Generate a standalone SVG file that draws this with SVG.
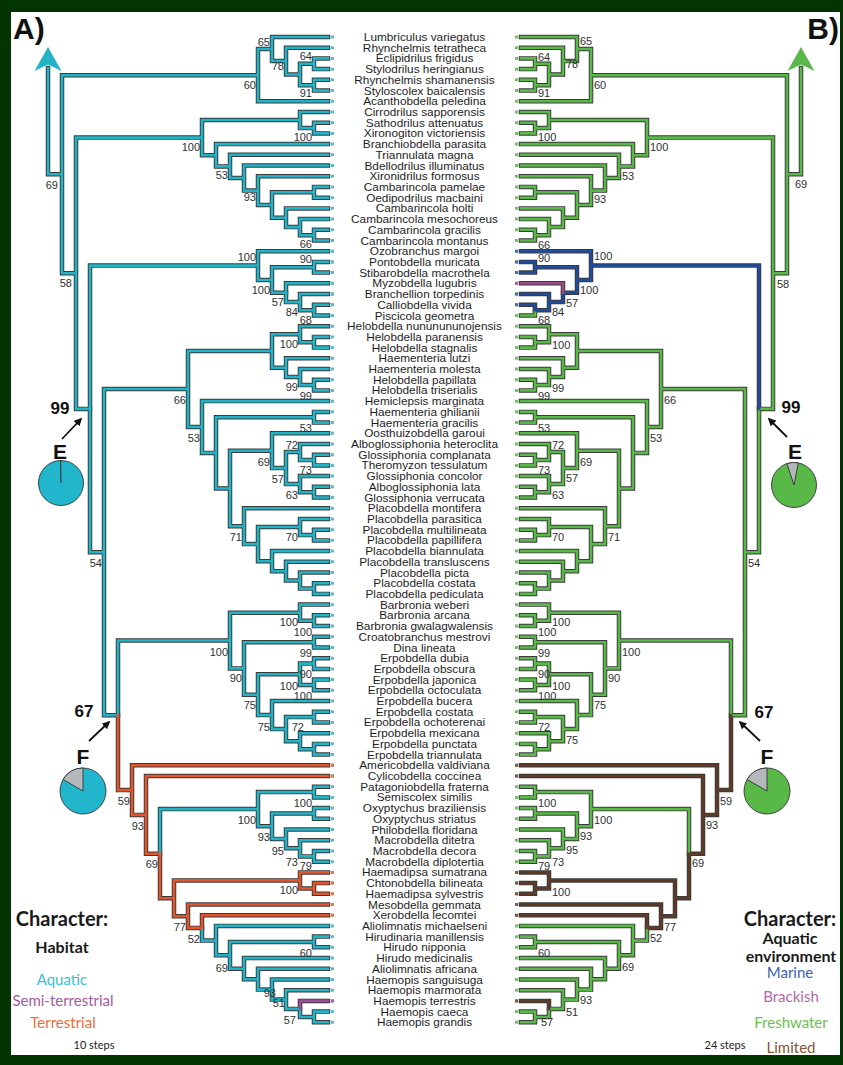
<svg xmlns="http://www.w3.org/2000/svg" xmlns:xlink="http://www.w3.org/1999/xlink" width="843" height="1065" viewBox="0 0 843 1065">
<style>
.ol{fill:none;stroke:#3a3a3a;stroke-width:4.5;stroke-linecap:square;stroke-linejoin:miter}
.core{fill:none;stroke-width:2.6;stroke-linecap:square;stroke-linejoin:miter}
.taxa text{font-family:"Liberation Sans",Arial,sans-serif;font-size:11.8px;fill:#1e1e1e;text-anchor:middle}
.sup text{font-family:"Liberation Sans",Arial,sans-serif;font-size:11px;fill:#303030}
.supL text{text-anchor:end}
.supR text{text-anchor:start}
.big{font-family:"Liberation Sans",Arial,sans-serif;font-weight:700;fill:#111;text-anchor:middle}
.leg{font-family:Lato,"Open Sans",sans-serif;text-anchor:middle}
.pie{stroke:#333;stroke-width:0.9}
.ptr{stroke:#111;stroke-width:1.8;fill:none}
</style>
<defs>
<marker id="ah" viewBox="0 0 10 10" refX="8" refY="5" markerWidth="8" markerHeight="8" markerUnits="userSpaceOnUse" orient="auto"><path d="M0 0L10 5L0 10z" fill="#111"/></marker>
<!-- branch geometry of the habitat tree (left); the environment tree reuses it mirrored -->
<path id="k1" d="M48 68V174.3H62M258 75.2H62V273.3H76M328 58.4H314V69.1H328M328 79.8H314V90.6H328M314 63.8H300V85.2H314M328 47.7H286V74.5H300M328 37H272V61.1H286M272 49H258V101.3H328M328 122.7H314V133.4H328M328 112H300V128.1H314M328 229.8H314V240.5H328M328 219.1H300V235.2H314M328 208.4H286V227.1H300M328 186.9H314V197.7H328M314 192.3H272V217.8H286M328 176.2H258V205H272M328 165.5H244V190.6H258M328 154.8H230V178H244M328 144.1H216V166.4H230M300 120H202V155.3H216M202 137.6H76V408.9H90M314 310.2V315.5H328M90 408.9V552.2H104M328 336.9H314V347.6H328M328 326.2H300V342.3H314M328 379.7H314V390.4H328M328 369H300V385.1H314M328 358.3H286V377H300M300 334.2H272V367.7H286M328 411.9H314V422.6H328M328 454.7H314V465.4H328M328 444H300V460.1H314M328 486.8H314V497.5H328M328 476.1H300V492.2H314M300 452H286V484.1H300M328 433.3H272V468.1H286M328 529.7H314V540.4H328M328 519H300V535.1H314M328 583.2H314V593.9H328M328 572.5H300V588.6H314M328 561.8H286V580.5H300M328 551.1H272V571.2H286M300 527H258V561.2H272M328 508.2H244V544.1H258M272 450.7H230V526.2H244M314 417.3H216V488.5H230M328 401.1H202V452.9H216M272 351H188V427H202M188 389H104V715.3H118M328 615.3H314V626.1H328M328 604.6H300V620.7H314M328 636.8H314V647.5H328M328 658.2H314V668.9H328M328 679.6H314V690.3H328M314 663.6H300V685H314M328 711.7H314V722.4H328M328 743.9H314V754.6H328M328 733.2H300V749.3H314M314 717.1H286V741.2H300M328 701H272V729.1H286M300 674.3H258V715.1H272M314 642.2H244V694.7H258M300 612.7H230V668.4H244M230 640.5H118V715.3M328 786.7H314V797.4H328M328 808.1H314V818.8H328M328 851H314V861.7H328M328 840.2H300V856.4H314M328 829.5H286V848.3H300M314 813.5H272V838.9H286M314 792.1H258V826.2H272M328 1011.6H314V1022.3H328M300 1008.9V1017H314M328 990.2H286V1008.9H300M328 979.5H272V999.6H286M328 968.8H258V989.6H272M328 958.1H244V979.2H258M328 936.6H314V947.3H328M314 942H230V968.7H244M328 925.9H216V955.3H230M202 927.9V940.6H216M258 809.1H160V853.7"/>
<path id="k2" d="M328 261.9H314V272.6H328M328 304.8H314V310.2M328 294H300V310.2H314M286 292.7V302.1H300M314 267.2H272V292.7H286M328 251.2H258V280H272M258 265.6H90V408.9"/>
<path id="k3" d="M328 283.3H286V292.7"/>
<path id="k4" d="M118 715.3V790.1H132M328 765.3H132V814.9H146M328 776H146V853.7H160M160 853.7V898.3H174M300 880.4H174V916.2H188M328 872.4H300V888.5H314M328 883.1H314V893.8H328M328 904.5H188V927.9H202M328 915.2H202V927.9"/>
<path id="k5" d="M328 1000.9H300V1008.9"/>
<path id="tipline" d="M332.5 35.5V1024"/>
<path id="sq2" d="M331 249.7h3v3h-3zM331 260.4h3v3h-3zM331 271.1h3v3h-3zM331 292.5h3v3h-3zM331 303.3h3v3h-3z"/>
<path id="sq3" d="M331 281.8h3v3h-3z"/>
<path id="sq4" d="M331 763.8h3v3h-3zM331 774.5h3v3h-3zM331 870.9h3v3h-3zM331 881.6h3v3h-3zM331 892.3h3v3h-3zM331 903h3v3h-3zM331 913.7h3v3h-3z"/>
<path id="sq5" d="M331 999.4h3v3h-3z"/>
<path id="rootarrow" d="M48 47L61.5 71L48 64.5L34.5 71z"/>
</defs>

<rect width="843" height="1065" fill="#033503"/>
<rect x="11" y="12" width="829" height="1043" fill="#ffffff"/>

<g id="connectors">
  <g id="tree-habitat">
    <g class="ol"><use xlink:href="#k1"/><use xlink:href="#k2"/><use xlink:href="#k3"/><use xlink:href="#k4"/><use xlink:href="#k5"/></g>
    <use xlink:href="#k1" class="core" stroke="#22b4c6"/>
    <use xlink:href="#k2" class="core" stroke="#22b4c6"/>
    <use xlink:href="#k3" class="core" stroke="#22b4c6"/>
    <use xlink:href="#k4" class="core" stroke="#e2562c"/>
    <use xlink:href="#k5" class="core" stroke="#9c4c9c"/>
    <use xlink:href="#rootarrow" fill="#22b4c6"/>
    <use xlink:href="#tipline" fill="none" stroke="#5cbcc8" stroke-width="3" stroke-dasharray="3 7.71"/>
    <use xlink:href="#sq2" fill="#5cbcc8"/>
    <use xlink:href="#sq3" fill="#5cbcc8"/>
    <use xlink:href="#sq4" fill="#e4744e"/>
    <use xlink:href="#sq5" fill="#a660a2"/>
  </g>
  <g id="tree-environment" transform="matrix(-1 0 0 1 849 0)">
    <g class="ol"><use xlink:href="#k1"/><use xlink:href="#k2"/><use xlink:href="#k3"/><use xlink:href="#k4"/><use xlink:href="#k5"/></g>
    <use xlink:href="#k1" class="core" stroke="#5ab84a"/>
    <use xlink:href="#k2" class="core" stroke="#214c9c"/>
    <use xlink:href="#k3" class="core" stroke="#9a4c88"/>
    <use xlink:href="#k4" class="core" stroke="#5e3b26"/>
    <use xlink:href="#k5" class="core" stroke="#5e3b26"/>
    <use xlink:href="#rootarrow" fill="#5ab84a"/>
    <use xlink:href="#tipline" fill="none" stroke="#7cbc6c" stroke-width="3" stroke-dasharray="3 7.71"/>
    <use xlink:href="#sq2" fill="#4a68ac"/>
    <use xlink:href="#sq3" fill="#a8648e"/>
    <use xlink:href="#sq4" fill="#7a5a48"/>
    <use xlink:href="#sq5" fill="#7a5a48"/>
  </g>
  <g id="pointers">
    <path class="ptr" d="M62 439L81 419" marker-end="url(#ah)"/>
    <path class="ptr" d="M787 437L769 419" marker-end="url(#ah)"/>
    <path class="ptr" d="M89 741L109 722" marker-end="url(#ah)"/>
    <path class="ptr" d="M760 741L740 722" marker-end="url(#ah)"/>
  </g>
</g>

<g id="taxa" class="taxa">
<g id="t-lumbriculus-variegatus"><text x="424.5" y="41">Lumbriculus variegatus</text></g>
<g id="t-rhynchelmis-tetratheca"><text x="424.5" y="51.7">Rhynchelmis tetratheca</text></g>
<g id="t-eclipidrilus-frigidus"><text x="424.5" y="62.4">Eclipidrilus frigidus</text></g>
<g id="t-stylodrilus-heringianus"><text x="424.5" y="73.1">Stylodrilus heringianus</text></g>
<g id="t-rhynchelmis-shamanensis"><text x="424.5" y="83.8">Rhynchelmis shamanensis</text></g>
<g id="t-styloscolex-baicalensis"><text x="424.5" y="94.6">Styloscolex baicalensis</text></g>
<g id="t-acanthobdella-peledina"><text x="424.5" y="105.3">Acanthobdella peledina</text></g>
<g id="t-cirrodrilus-sapporensis"><text x="424.5" y="116">Cirrodrilus sapporensis</text></g>
<g id="t-sathodrilus-attenuatus"><text x="424.5" y="126.7">Sathodrilus attenuatus</text></g>
<g id="t-xironogiton-victoriensis"><text x="424.5" y="137.4">Xironogiton victoriensis</text></g>
<g id="t-branchiobdella-parasita"><text x="424.5" y="148.1">Branchiobdella parasita</text></g>
<g id="t-triannulata-magna"><text x="424.5" y="158.8">Triannulata magna</text></g>
<g id="t-bdellodrilus-illuminatus"><text x="424.5" y="169.5">Bdellodrilus illuminatus</text></g>
<g id="t-xironidrilus-formosus"><text x="424.5" y="180.2">Xironidrilus formosus</text></g>
<g id="t-cambarincola-pamelae"><text x="424.5" y="190.9">Cambarincola pamelae</text></g>
<g id="t-oedipodrilus-macbaini"><text x="424.5" y="201.7">Oedipodrilus macbaini</text></g>
<g id="t-cambarincola-holti"><text x="424.5" y="212.4">Cambarincola holti</text></g>
<g id="t-cambarincola-mesochoreus"><text x="424.5" y="223.1">Cambarincola mesochoreus</text></g>
<g id="t-cambarincola-gracilis"><text x="424.5" y="233.8">Cambarincola gracilis</text></g>
<g id="t-cambarincola-montanus"><text x="424.5" y="244.5">Cambarincola montanus</text></g>
<g id="t-ozobranchus-margoi"><text x="424.5" y="255.2">Ozobranchus margoi</text></g>
<g id="t-pontobdella-muricata"><text x="424.5" y="265.9">Pontobdella muricata</text></g>
<g id="t-stibarobdella-macrothela"><text x="424.5" y="276.6">Stibarobdella macrothela</text></g>
<g id="t-myzobdella-lugubris"><text x="424.5" y="287.3">Myzobdella lugubris</text></g>
<g id="t-branchellion-torpedinis"><text x="424.5" y="298">Branchellion torpedinis</text></g>
<g id="t-calliobdella-vivida"><text x="424.5" y="308.8">Calliobdella vivida</text></g>
<g id="t-piscicola-geometra"><text x="424.5" y="319.5">Piscicola geometra</text></g>
<g id="t-helobdella-nununununojensis"><text x="424.5" y="330.2">Helobdella nununununojensis</text></g>
<g id="t-helobdella-paranensis"><text x="424.5" y="340.9">Helobdella paranensis</text></g>
<g id="t-helobdella-stagnalis"><text x="424.5" y="351.6">Helobdella stagnalis</text></g>
<g id="t-haementeria-lutzi"><text x="424.5" y="362.3">Haementeria lutzi</text></g>
<g id="t-haementeria-molesta"><text x="424.5" y="373">Haementeria molesta</text></g>
<g id="t-helobdella-papillata"><text x="424.5" y="383.7">Helobdella papillata</text></g>
<g id="t-helobdella-triserialis"><text x="424.5" y="394.4">Helobdella triserialis</text></g>
<g id="t-hemiclepsis-marginata"><text x="424.5" y="405.1">Hemiclepsis marginata</text></g>
<g id="t-haementeria-ghilianii"><text x="424.5" y="415.9">Haementeria ghilianii</text></g>
<g id="t-haementeria-gracilis"><text x="424.5" y="426.6">Haementeria gracilis</text></g>
<g id="t-oosthuizobdella-garoui"><text x="424.5" y="437.3">Oosthuizobdella garoui</text></g>
<g id="t-alboglossiphonia-heteroclita"><text x="424.5" y="448">Alboglossiphonia heteroclita</text></g>
<g id="t-glossiphonia-complanata"><text x="424.5" y="458.7">Glossiphonia complanata</text></g>
<g id="t-theromyzon-tessulatum"><text x="424.5" y="469.4">Theromyzon tessulatum</text></g>
<g id="t-glossiphonia-concolor"><text x="424.5" y="480.1">Glossiphonia concolor</text></g>
<g id="t-alboglossiphonia-lata"><text x="424.5" y="490.8">Alboglossiphonia lata</text></g>
<g id="t-glossiphonia-verrucata"><text x="424.5" y="501.5">Glossiphonia verrucata</text></g>
<g id="t-placobdella-montifera"><text x="424.5" y="512.2">Placobdella montifera</text></g>
<g id="t-placobdella-parasitica"><text x="424.5" y="523">Placobdella parasitica</text></g>
<g id="t-placobdella-multilineata"><text x="424.5" y="533.7">Placobdella multilineata</text></g>
<g id="t-placobdella-papillifera"><text x="424.5" y="544.4">Placobdella papillifera</text></g>
<g id="t-placobdella-biannulata"><text x="424.5" y="555.1">Placobdella biannulata</text></g>
<g id="t-placobdella-transluscens"><text x="424.5" y="565.8">Placobdella transluscens</text></g>
<g id="t-placobdella-picta"><text x="424.5" y="576.5">Placobdella picta</text></g>
<g id="t-placobdella-costata"><text x="424.5" y="587.2">Placobdella costata</text></g>
<g id="t-placobdella-pediculata"><text x="424.5" y="597.9">Placobdella pediculata</text></g>
<g id="t-barbronia-weberi"><text x="424.5" y="608.6">Barbronia weberi</text></g>
<g id="t-barbronia-arcana"><text x="424.5" y="619.3">Barbronia arcana</text></g>
<g id="t-barbronia-gwalagwalensis"><text x="424.5" y="630.1">Barbronia gwalagwalensis</text></g>
<g id="t-croatobranchus-mestrovi"><text x="424.5" y="640.8">Croatobranchus mestrovi</text></g>
<g id="t-dina-lineata"><text x="424.5" y="651.5">Dina lineata</text></g>
<g id="t-erpobdella-dubia"><text x="424.5" y="662.2">Erpobdella dubia</text></g>
<g id="t-erpobdella-obscura"><text x="424.5" y="672.9">Erpobdella obscura</text></g>
<g id="t-erpobdella-japonica"><text x="424.5" y="683.6">Erpobdella japonica</text></g>
<g id="t-erpobdella-octoculata"><text x="424.5" y="694.3">Erpobdella octoculata</text></g>
<g id="t-erpobdella-bucera"><text x="424.5" y="705">Erpobdella bucera</text></g>
<g id="t-erpobdella-costata"><text x="424.5" y="715.7">Erpobdella costata</text></g>
<g id="t-erpobdella-ochoterenai"><text x="424.5" y="726.4">Erpobdella ochoterenai</text></g>
<g id="t-erpobdella-mexicana"><text x="424.5" y="737.2">Erpobdella mexicana</text></g>
<g id="t-erpobdella-punctata"><text x="424.5" y="747.9">Erpobdella punctata</text></g>
<g id="t-erpobdella-triannulata"><text x="424.5" y="758.6">Erpobdella triannulata</text></g>
<g id="t-americobdella-valdiviana"><text x="424.5" y="769.3">Americobdella valdiviana</text></g>
<g id="t-cylicobdella-coccinea"><text x="424.5" y="780">Cylicobdella coccinea</text></g>
<g id="t-patagoniobdella-fraterna"><text x="424.5" y="790.7">Patagoniobdella fraterna</text></g>
<g id="t-semiscolex-similis"><text x="424.5" y="801.4">Semiscolex similis</text></g>
<g id="t-oxyptychus-braziliensis"><text x="424.5" y="812.1">Oxyptychus braziliensis</text></g>
<g id="t-oxyptychus-striatus"><text x="424.5" y="822.8">Oxyptychus striatus</text></g>
<g id="t-philobdella-floridana"><text x="424.5" y="833.5">Philobdella floridana</text></g>
<g id="t-macrobdella-ditetra"><text x="424.5" y="844.2">Macrobdella ditetra</text></g>
<g id="t-macrobdella-decora"><text x="424.5" y="855">Macrobdella decora</text></g>
<g id="t-macrobdella-diplotertia"><text x="424.5" y="865.7">Macrobdella diplotertia</text></g>
<g id="t-haemadipsa-sumatrana"><text x="424.5" y="876.4">Haemadipsa sumatrana</text></g>
<g id="t-chtonobdella-bilineata"><text x="424.5" y="887.1">Chtonobdella bilineata</text></g>
<g id="t-haemadipsa-sylvestris"><text x="424.5" y="897.8">Haemadipsa sylvestris</text></g>
<g id="t-mesobdella-gemmata"><text x="424.5" y="908.5">Mesobdella gemmata</text></g>
<g id="t-xerobdella-lecomtei"><text x="424.5" y="919.2">Xerobdella lecomtei</text></g>
<g id="t-aliolimnatis-michaelseni"><text x="424.5" y="929.9">Aliolimnatis michaelseni</text></g>
<g id="t-hirudinaria-manillensis"><text x="424.5" y="940.6">Hirudinaria manillensis</text></g>
<g id="t-hirudo-nipponia"><text x="424.5" y="951.3">Hirudo nipponia</text></g>
<g id="t-hirudo-medicinalis"><text x="424.5" y="962.1">Hirudo medicinalis</text></g>
<g id="t-aliolimnatis-africana"><text x="424.5" y="972.8">Aliolimnatis africana</text></g>
<g id="t-haemopis-sanguisuga"><text x="424.5" y="983.5">Haemopis sanguisuga</text></g>
<g id="t-haemopis-marmorata"><text x="424.5" y="994.2">Haemopis marmorata</text></g>
<g id="t-haemopis-terrestris"><text x="424.5" y="1004.9">Haemopis terrestris</text></g>
<g id="t-haemopis-caeca"><text x="424.5" y="1015.6">Haemopis caeca</text></g>
<g id="t-haemopis-grandis"><text x="424.5" y="1026.3">Haemopis grandis</text></g>
</g>

<g id="support-habitat" class="sup supL">
<text x="58" y="189">69</text><text x="72" y="287">58</text><text x="102" y="567">54</text>
<text x="270" y="46">65</text><text x="312" y="60">64</text><text x="284" y="70">78</text><text x="256" y="89">60</text><text x="312" y="97">91</text>
<text x="312" y="141">100</text><text x="200" y="151">100</text><text x="228" y="179">53</text><text x="256" y="201">93</text><text x="312" y="248">66</text>
<text x="256" y="261">100</text><text x="312" y="263">90</text><text x="270" y="294">100</text><text x="284" y="306">57</text><text x="298" y="316">84</text><text x="312" y="324">68</text>
<text x="298" y="348">100</text><text x="298" y="391">99</text><text x="312" y="400">99</text><text x="186" y="404">66</text><text x="312" y="432">53</text><text x="200" y="442">53</text>
<text x="298" y="449">72</text><text x="270" y="466">69</text><text x="312" y="474">73</text><text x="284" y="483">57</text><text x="298" y="499">63</text><text x="242" y="541">71</text><text x="298" y="541">70</text>
<text x="298" y="626">100</text><text x="312" y="636">100</text><text x="228" y="656">100</text><text x="312" y="657">99</text><text x="242" y="682">90</text><text x="312" y="678">90</text>
<text x="298" y="690">100</text><text x="312" y="700">100</text><text x="256" y="709">75</text><text x="270" y="731">75</text><text x="304" y="731">72</text>
<text x="312" y="807">100</text><text x="256" y="824">100</text><text x="270" y="841">93</text><text x="284" y="855">95</text><text x="298" y="866">73</text><text x="312" y="870">79</text>
<text x="158" y="868">69</text><text x="144" y="830">93</text><text x="130" y="805">59</text><text x="298" y="894">100</text><text x="186" y="931">77</text><text x="200" y="943">52</text>
<text x="312" y="957">60</text><text x="228" y="972">69</text><text x="276" y="997">93</text><text x="285" y="1007">51</text><text x="296" y="1024">57</text>
</g>

<g id="support-environment" class="sup supR">
<text x="795" y="188">69</text><text x="777" y="288">58</text><text x="748" y="567">54</text>
<text x="580" y="45">65</text><text x="538" y="61">64</text><text x="566" y="68">78</text><text x="594" y="89">60</text><text x="538" y="97">91</text>
<text x="538" y="141">100</text><text x="650" y="151">100</text><text x="622" y="180">53</text><text x="594" y="203">93</text><text x="538" y="249">66</text>
<text x="594" y="260">100</text><text x="538" y="262">90</text><text x="580" y="294">100</text><text x="566" y="307">57</text><text x="552" y="316">84</text><text x="538" y="324">68</text>
<text x="552" y="349">100</text><text x="552" y="392">99</text><text x="538" y="400">99</text><text x="664" y="404">66</text><text x="538" y="432">53</text><text x="650" y="442">53</text>
<text x="552" y="449">72</text><text x="580" y="466">69</text><text x="538" y="474">73</text><text x="566" y="482">57</text><text x="552" y="499">63</text><text x="608" y="541">71</text><text x="552" y="541">70</text>
<text x="552" y="626">100</text><text x="538" y="636">100</text><text x="622" y="656">100</text><text x="538" y="657">99</text><text x="608" y="682">90</text><text x="538" y="678">90</text>
<text x="552" y="690">100</text><text x="538" y="700">100</text><text x="594" y="709">75</text><text x="566" y="744">75</text><text x="538" y="731">72</text>
<text x="538" y="807">100</text><text x="594" y="824">100</text><text x="580" y="840">93</text><text x="566" y="854">95</text><text x="552" y="866">73</text><text x="538" y="870">79</text>
<text x="692" y="867">69</text><text x="706" y="829">93</text><text x="720" y="805">59</text><text x="552" y="896">100</text><text x="664" y="931">77</text><text x="650" y="942">52</text>
<text x="538" y="957">60</text><text x="622" y="971">69</text><text x="580" y="1004">93</text><text x="566" y="1016">51</text><text x="541" y="1026">57</text>
</g>

<g id="panel-labels">
<text class="big" x="13" y="39" font-size="30" style="text-anchor:start">A)</text>
<text class="big" x="839" y="39" font-size="30" style="text-anchor:end">B)</text>
</g>

<g id="node-e-habitat">
<text class="big" x="60" y="414" font-size="17">99</text>
<text class="big" x="60" y="459" font-size="21">E</text>
<circle class="pie" cx="61" cy="483" r="22.5" fill="#22b6cc"/>
<path d="M61 483L60.6 460.6" stroke="#333" stroke-width="1.1"/>
</g>
<g id="node-f-habitat">
<text class="big" x="84" y="717" font-size="17">67</text>
<text class="big" x="83" y="764" font-size="21">F</text>
<circle class="pie" cx="83" cy="791" r="23" fill="#22b6cc"/>
<path class="pie" d="M83 791L63.1 779.5A23 23 0 0 1 83 768z" fill="#b4b8ba"/>
</g>
<g id="node-e-environment">
<text class="big" x="791" y="413" font-size="17">99</text>
<text class="big" x="795" y="459" font-size="21">E</text>
<circle class="pie" cx="794" cy="485" r="22.5" fill="#58b848"/>
<path class="pie" d="M794 485L786.9 463.6A22.5 22.5 0 0 1 798.3 462.9z" fill="#b4b8ba"/>
</g>
<g id="node-f-environment">
<text class="big" x="764" y="718" font-size="17">67</text>
<text class="big" x="767" y="764" font-size="21">F</text>
<circle class="pie" cx="767" cy="791" r="23" fill="#58b848"/>
<path class="pie" d="M767 791L747.1 779.5A23 23 0 0 1 767 768z" fill="#b4b8ba"/>
</g>

<g id="legend-habitat" class="leg">
<text x="62" y="926" font-size="20" font-weight="700" fill="#1a1a1a">Character:</text>
<text x="62" y="953" font-size="16" font-weight="700" fill="#1a1a1a">Habitat</text>
<text x="62" y="985" font-size="15" fill="#3cc0d2">Aquatic</text>
<text x="63" y="1006" font-size="15" fill="#a65a9f">Semi-terrestrial</text>
<text x="63" y="1028" font-size="15" fill="#f06b38">Terrestrial</text>
<text x="94" y="1049" font-size="11" fill="#222">10 steps</text>
</g>
<g id="legend-environment" class="leg">
<text x="790" y="926" font-size="20" font-weight="700" fill="#1a1a1a">Character:</text>
<text x="790" y="944" font-size="16" font-weight="700" fill="#1a1a1a">Aquatic</text>
<text x="791" y="962" font-size="16" font-weight="700" fill="#1a1a1a">environment</text>
<text x="790" y="978" font-size="15" fill="#3d62b4">Marine</text>
<text x="791" y="1002" font-size="15" fill="#b06aa8">Brackish</text>
<text x="791" y="1028" font-size="15" fill="#6cc050">Freshwater</text>
<text x="791" y="1053" font-size="15" fill="#8a5535">Limited</text>
<text x="725" y="1049" font-size="11" fill="#222">24 steps</text>
</g>
</svg>
